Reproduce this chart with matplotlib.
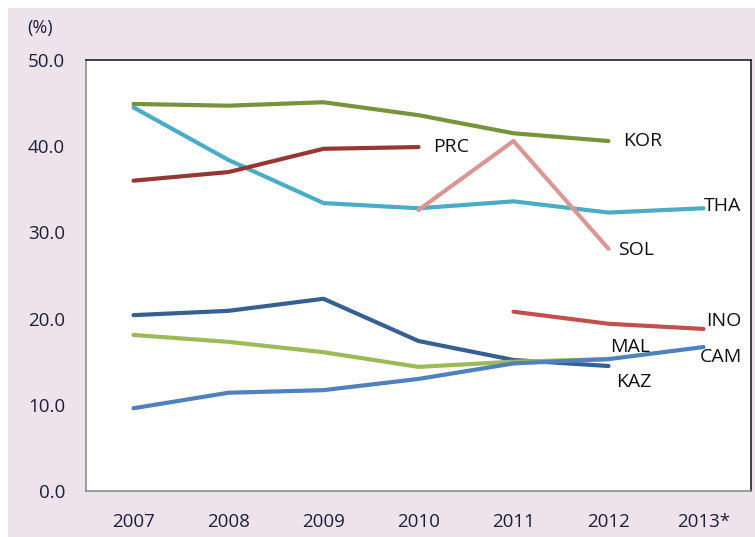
import matplotlib.pyplot as plt
import matplotlib.patches as patches
import numpy as np

years = ['2007', '2008', '2009', '2010', '2011', '2012', '2013*']

kor = [44.9, 44.7, 45.1, 43.6, 41.5, 40.6, None]
tha = [44.5, 38.4, 33.4, 32.8, 33.6, 32.3, 32.8]
prc = [36.0, 37.0, 39.7, 39.9, None, None, None]
sol = [None, None, None, 32.6, 40.6, 28.1, None]
kaz = [20.4, 20.9, 22.3, 17.4, 15.2, 14.5, None]
mal = [18.1, 17.3, 16.1, 14.4, 15.0, 15.3, None]
cam = [9.6, 11.4, 11.7, 13.0, 14.8, 15.3, 16.7]
ino = [None, None, None, None, 20.8, 19.4, 18.8]

# name, values, colour, label offset (x in categories, y in data units)
series = [
    ('KOR', kor, '#77933c', (0.15, 0.0)),
    ('THA', tha, '#4bacc6', (0.0, 0.3)),
    ('PRC', prc, '#953735', (0.15, 0.0)),
    ('SOL', sol, '#d99694', (0.1, -0.1)),
    ('KAZ', kaz, '#376092', (0.08, -1.9)),
    ('MAL', mal, '#9bbb59', (0.02, 1.4)),
    ('CAM', cam, '#4f81bd', (-0.04, -1.2)),
    ('INO', ino, '#c0504d', (0.03, 0.9)),
]

text_col = '#1e1e3c'
plt.rcParams['font.family'] = ['Open Sans', 'DejaVu Sans']

fig = plt.figure(figsize=(7.55, 5.37), dpi=100)
fig.patch.set_facecolor('white')
fig.patches.append(patches.Rectangle((8 / 755, 0), 1, 1 - 8 / 537,
                                     transform=fig.transFigure,
                                     facecolor='#ede3eb', edgecolor='none',
                                     zorder=-10))

ax = fig.add_axes([86 / 755, 46 / 537, 665 / 755, 431 / 537])
ax.set_facecolor('white')

x = np.arange(len(years))
for name, vals, col, (dx, dy) in series:
    xs = [xi for xi, v in zip(x, vals) if v is not None]
    ys = [v for v in vals if v is not None]
    ax.plot(xs, ys, color=col, lw=3.0, solid_capstyle='round',
            solid_joinstyle='round')
    ax.text(xs[-1] + dx, ys[-1] + dy, name, fontsize=14, color='#111111',
            va='center', ha='left')

ax.set_xlim(-0.5, 6.5)
ax.set_ylim(0, 50)
ax.set_xticks(x)
ax.set_xticklabels(years)
ax.set_yticks([0, 10, 20, 30, 40, 50])
ax.set_yticklabels(['0.0', '10.0', '20.0', '30.0', '40.0', '50.0'])
ax.tick_params(length=0, labelsize=13.5, labelcolor=text_col)
ax.tick_params(axis='x', pad=16)
ax.tick_params(axis='y', pad=15)

for s in ['left', 'bottom']:
    ax.spines[s].set_color('#8c8c8c')
    ax.spines[s].set_linewidth(1.2)
for s in ['top', 'right']:
    ax.spines[s].set_color('#222222')
    ax.spines[s].set_linewidth(1.2)

fig.text(40 / 755, 1 - 28 / 537, '(%)', fontsize=13, color=text_col,
         ha='center', va='center')

fig.savefig('out.png', dpi=100)
